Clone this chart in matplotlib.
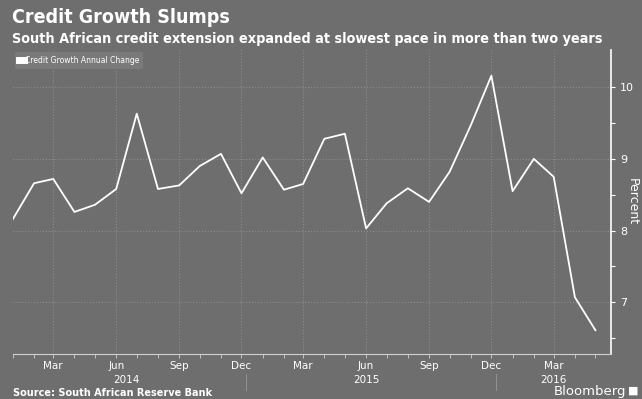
import pandas as pd
import numpy as np
import matplotlib
matplotlib.use('Agg')
import matplotlib.pyplot as plt
import matplotlib.dates as mdates

# monthly credit growth, Jan 2014 - May 2016
start_month = '2014-01'
credit_growth = [8.16, 8.66, 8.72, 8.26, 8.36, 8.58, 9.63, 8.58, 8.63, 8.90, 9.07, 8.52,
                 9.02, 8.57, 8.65, 9.28, 9.35, 8.03, 8.38, 8.59, 8.40, 8.82, 9.47, 10.16,
                 8.55, 9.00, 8.75, 7.07, 6.61]
years = ['2014', '2015', '2016']
year_pos = ['2014-06-16', '2015-06-01', '2016-03-01']
year_breaks = ['2014-12-08', '2015-12-08']
y_ticks = [7, 8, 9, 10]

months = pd.date_range(start_month, periods=len(credit_growth), freq='MS')
df = pd.DataFrame({'growth': credit_growth}, index=months)

bg = '#6e6e6e'
fig = plt.figure(figsize=(6.42, 3.99), dpi=100, facecolor=bg)
ax = fig.add_axes([0.020, 0.113, 0.932, 0.762], facecolor=bg)

ax.plot(df.index, df['growth'], color='white', lw=1.3, label='Credit Growth Annual Change')

ax.set_xlim(pd.Timestamp('2014-01-01'), pd.Timestamp('2016-05-24'))
ax.set_ylim(6.28, 10.52)

# axes styling
for s in ['top', 'left']:
    ax.spines[s].set_visible(False)
ax.spines['right'].set_color('white')
ax.spines['right'].set_linewidth(1.2)
ax.spines['bottom'].set_color('#d0d0d0')
ax.spines['bottom'].set_linewidth(0.8)

ax.yaxis.tick_right()
ax.yaxis.set_label_position('right')
ax.set_yticks(y_ticks)
ax.set_yticks([6.5, 7.5, 8.5, 9.5], minor=True)
ax.tick_params(axis='y', which='both', colors='white', labelsize=8, length=3, width=0.8)
ax.set_ylabel('Percent', color='white', rotation=270, fontsize=9, va='center')
ax.yaxis.set_label_coords(1.036, 0.5)

ax.xaxis.set_major_locator(mdates.MonthLocator(bymonth=[3, 6, 9, 12]))
ax.xaxis.set_major_formatter(mdates.DateFormatter('%b'))
ax.xaxis.set_minor_locator(mdates.MonthLocator())
ax.tick_params(axis='x', which='both', colors='#d0d0d0', labelcolor='white',
               labelsize=7.5, length=3, width=0.6, pad=2)

ax.grid(True, which='major', color='#8c8c8c', linestyle=':', linewidth=0.8)

# year labels under months
for yr, pos in zip(years, year_pos):
    ax.text(pd.Timestamp(pos), -0.085, yr, transform=ax.get_xaxis_transform(),
            ha='center', va='center', color='white', fontsize=7.5)
for b in year_breaks:
    ax.plot([pd.Timestamp(b)] * 2, [-0.065, -0.12], transform=ax.get_xaxis_transform(),
            color='#9a9a9a', lw=0.6, clip_on=False)

leg = ax.legend(loc='upper left', bbox_to_anchor=(0.0, 1.0), fontsize=5.5, frameon=True,
                handlelength=0.6, handletextpad=0.2, borderpad=0.5, borderaxespad=0.3)
leg.get_frame().set_facecolor('#7a7a7a')
leg.get_frame().set_edgecolor('none')
leg.get_frame().set_alpha(1)
for t in leg.get_texts():
    t.set_color('white')
for h in leg.get_lines():
    h.set_linewidth(5)

fig.text(0.018, 0.955, 'Credit Growth Slumps', color='white', fontsize=14,
         fontweight='bold', ha='left', va='center', fontstretch='condensed')
fig.text(0.018, 0.903, 'South African credit extension expanded at slowest pace in more than two years',
         color='white', fontsize=10.4, fontweight='bold', ha='left', va='center', fontstretch='condensed')
fig.text(0.02, 0.015, 'Source: South African Reserve Bank', color='white', fontsize=7,
         fontweight='bold', ha='left', va='center')
fig.text(0.975, 0.02, 'Bloomberg', color='white', fontsize=9.5, ha='right', va='center')
fig.text(0.995, 0.02, '\u25a0', color='white', fontsize=8, ha='right', va='center')

fig.savefig('out.png', dpi=100, facecolor=bg)
